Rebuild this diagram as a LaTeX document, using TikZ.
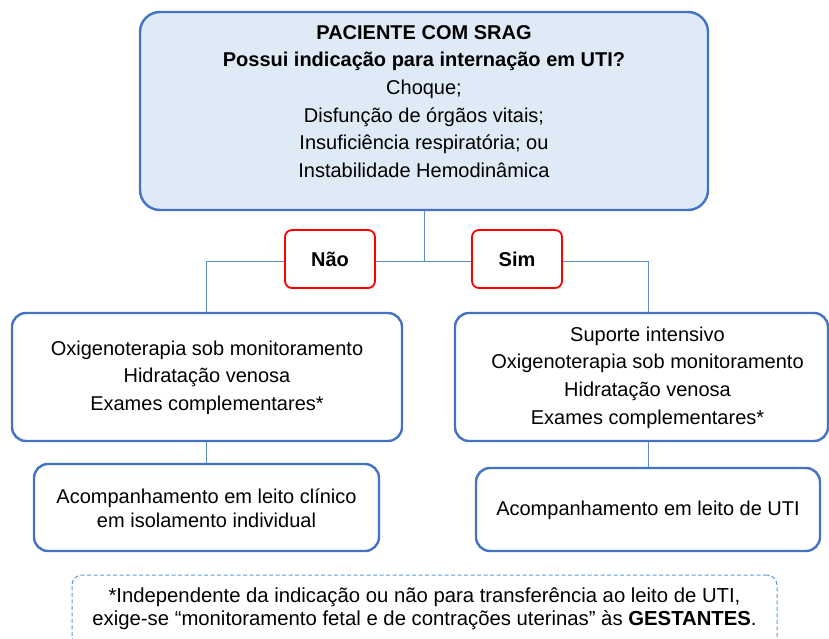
\documentclass[tikz,border=0pt]{standalone}
\usepackage{fontspec}
\setmainfont{Liberation Sans}
\definecolor{boxblue}{RGB}{68,114,196}
\definecolor{lineblue}{RGB}{96,140,196}
\definecolor{fillblue}{RGB}{222,234,246}
\definecolor{dashblue}{RGB}{91,155,213}
\definecolor{redb}{RGB}{255,0,0}
\begin{document}
\begin{tikzpicture}[x=1pt,y=-1pt,
  bluebox/.style={draw=boxblue,line width=2.4pt,rounded corners=14pt,fill=white,inner sep=0pt},
  choice/.style={draw=redb,line width=1.8pt,rounded corners=7pt,fill=white,minimum width=90pt,minimum height=58pt,inner sep=0pt,font=\fontsize{20}{24}\selectfont\bfseries},
  txt/.style={align=center,inner sep=0pt,font=\fontsize{20}{27.6}\selectfont},
  conn/.style={draw=lineblue,line width=0.9pt}
]
\useasboundingbox (0,0) rectangle (829,639);
% top box
\node[bluebox,fill=fillblue,rounded corners=20pt,minimum width=568pt,minimum height=198pt] (top) at (424,111) {};
\node[txt] (toptxt) at (424,101.5) {\textbf{PACIENTE COM SRAG}\\\textbf{Possui indicação para internação em UTI?}\\Choque;\\Disfunção de órgãos vitais;\\Insuficiência respiratória; ou\\Instabilidade Hemodinâmica};
% junction coordinates
\coordinate (j) at (424,261);
\coordinate (jl) at (206,261);
\coordinate (jr) at (648,261);
% boxes
\node[bluebox,minimum width=390pt,minimum height=128pt] (left) at (207,377) {};
\node[txt] (lefttxt) at (207,377.5) {Oxigenoterapia sob monitoramento\\Hidratação venosa\\Exames complementares*};
\node[bluebox,minimum width=373pt,minimum height=128pt] (right) at (641.5,377) {};
\node[txt] (righttxt) at (647.5,377.5) {Suporte intensivo\\Oxigenoterapia sob monitoramento\\Hidratação venosa\\Exames complementares*};
\node[bluebox,minimum width=345pt,minimum height=87pt] (lleft) at (206.5,507.5) {};
\node[txt,font=\fontsize{20}{24}\selectfont] (llefttxt) at (206.5,508) {Acompanhamento em leito clínico\\em isolamento individual};
\node[bluebox,minimum width=344pt,minimum height=83pt] (lright) at (648,509.5) {};
\node[txt] (lrighttxt) at (648,510) {Acompanhamento em leito de UTI};
% connectors
\draw[conn] (top.south) -- (j);
\draw[conn] (jl) -- (jr);
\draw[conn] (jl) -- (jl |- left.north);
\draw[conn] (jr) -- (jr |- right.north);
\draw[conn] (left.south -| jl) -- (lleft.north -| jl);
\draw[conn] (right.south -| jr) -- (lright.north -| jr);
% choices
\node[choice] (nao) at (330,259) {Não};
\node[choice] (sim) at (517,259) {Sim};
% note
\node[draw=dashblue,line width=1pt,dash pattern=on 4pt off 2.5pt,rounded corners=10pt,minimum width=705pt,minimum height=72pt,inner sep=0pt] (note) at (424.5,611) {};
\node[txt,font=\fontsize{20.3}{23}\selectfont] (notetxt) at (424.5,608.5) {*Independente da indicação ou não para transferência ao leito de UTI,\\exige-se “monitoramento fetal e de contrações uterinas” às \textbf{GESTANTES}.};
\end{tikzpicture}
\end{document}
